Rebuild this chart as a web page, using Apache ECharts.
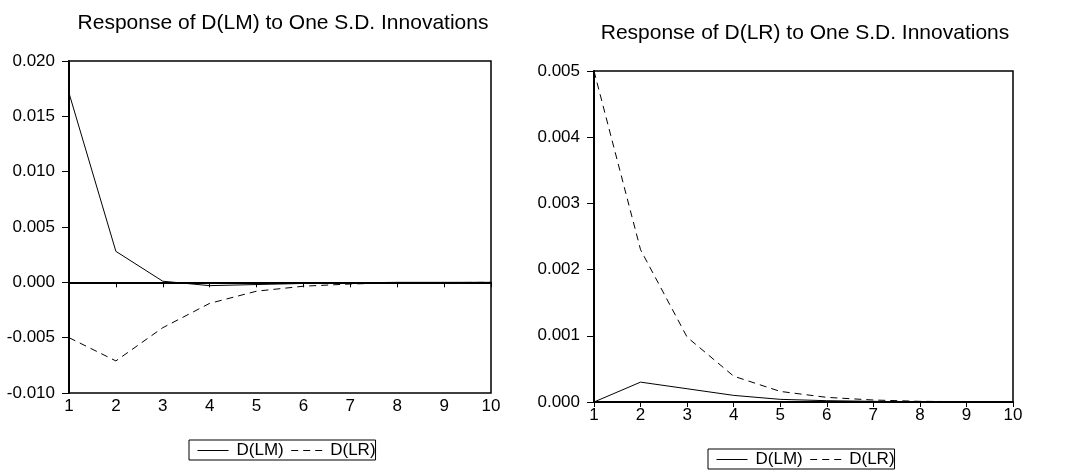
<!DOCTYPE html>
<html>
<head>
<meta charset="utf-8">
<script src="https://cdn.jsdelivr.net/npm/echarts@6/dist/echarts.min.js"></script>
<style>html,body{margin:0;padding:0;background:#fff;}#c{width:1065px;height:472px;}</style>
</head>
<body>
<div id="c"></div>
<script>
const periods = ['1','2','3','4','5','6','7','8','9','10'];
const titleLM = 'Response of D(LM) to One S.D. Innovations';
const titleLR = 'Response of D(LR) to One S.D. Innovations';
// Response of D(LM)
const lm_LM = [0.0171, 0.0028, 0.0001, -0.0003, -0.0002, -0.0001, -0.00005, 0.0, 0.0, 0.0];
const lm_LR = [-0.0050, -0.0071, -0.0041, -0.0019, -0.0008, -0.00035, -0.00015, -0.00005, -0.00002, 0.0];
// Response of D(LR)
const lr_LM = [0.0, 0.0003, 0.0002, 0.0001, 0.00004, 0.00002, 0.00001, 0.0, 0.0, 0.0];
const lr_LR = [0.0050, 0.0023, 0.00098, 0.00039, 0.00016, 0.00007, 0.00003, 0.00001, 0.000005, 0.0];
const seriesNames = ['D(LM)', 'D(LR)'];
const yLeft = {min: -0.010, max: 0.020, interval: 0.005};
const yRight = {min: 0.000, max: 0.005, interval: 0.001};

const FONT = 'Liberation Sans, Arial, sans-serif';
const chart = echarts.init(document.getElementById('c'), null, {renderer: 'canvas'});

function xAxis(gi) {
  return {
    type: 'category', gridIndex: gi, data: periods, boundaryGap: false,
    axisLine: {show: true, lineStyle: {color: '#000', width: 2}},
    axisTick: {show: true, length: 5, lineStyle: {color: '#000', width: 1}},
    axisLabel: {color: '#000', fontSize: 17, fontFamily: FONT, margin: 5, interval: 0},
    splitLine: {show: false}
  };
}
function yAxis(gi, r) {
  return {
    type: 'value', gridIndex: gi, min: r.min, max: r.max, interval: r.interval,
    axisLine: {show: true, lineStyle: {color: '#000', width: 2}},
    axisTick: {show: true, length: 7, lineStyle: {color: '#000', width: 1}},
    axisLabel: {color: '#000', fontSize: 17, fontFamily: FONT, margin: 14,
      formatter: v => v.toFixed(3)},
    splitLine: {show: false}
  };
}
function mkSeries(name, data, gi, dashed, zeroLine) {
  const s = {
    name: name, type: 'line', xAxisIndex: gi, yAxisIndex: gi, data: data,
    symbol: 'none', silent: true, animation: false,
    lineStyle: {color: '#000', width: 1, type: dashed ? [7, 5] : 'solid'},
    itemStyle: {color: '#000'}
  };
  if (zeroLine) {
    s.markLine = {silent: true, symbol: 'none', label: {show: false},
      lineStyle: {color: '#000', width: 1, type: 'solid'},
      data: [{yAxis: 0}], animation: false};
  }
  return s;
}
function legend(left, top) {
  return {
    left: left, top: top, orient: 'horizontal',
    data: seriesNames, itemWidth: 31, itemHeight: 10, itemGap: 7,
    borderColor: '#000', borderWidth: 1, padding: [2, 0, 1, 8],
    itemStyle: {opacity: 0},
    lineStyle: {width: 1},
    textStyle: {color: '#000', fontSize: 17, fontFamily: FONT, padding: [0, 0, 0, 3]},
    selectedMode: false
  };
}

chart.setOption({
  backgroundColor: '#fff',
  animation: false,
  title: [
    {text: titleLM, left: 278, top: 8, textAlign: 'center',
      textStyle: {color: '#000', fontSize: 21, fontWeight: 'normal', fontFamily: FONT}},
    {text: titleLR, left: 800, top: 18, textAlign: 'center',
      textStyle: {color: '#000', fontSize: 21, fontWeight: 'normal', fontFamily: FONT}}
  ],
  grid: [
    {left: 69, top: 61, width: 422, height: 332, show: true, borderColor: '#000', borderWidth: 1.5, backgroundColor: 'transparent'},
    {left: 594, top: 71, width: 419, height: 331, show: true, borderColor: '#000', borderWidth: 1.5, backgroundColor: 'transparent'}
  ],
  xAxis: [xAxis(0), xAxis(1)],
  yAxis: [yAxis(0, yLeft), yAxis(1, yRight)],
  legend: [legend(189, 440), legend(708, 449)],
  series: [
    mkSeries(seriesNames[0], lm_LM, 0, false, true),
    mkSeries(seriesNames[1], lm_LR, 0, true, false),
    mkSeries(seriesNames[0], lr_LM, 1, false, false),
    mkSeries(seriesNames[1], lr_LR, 1, true, false)
  ]
});
</script>
</body>
</html>
